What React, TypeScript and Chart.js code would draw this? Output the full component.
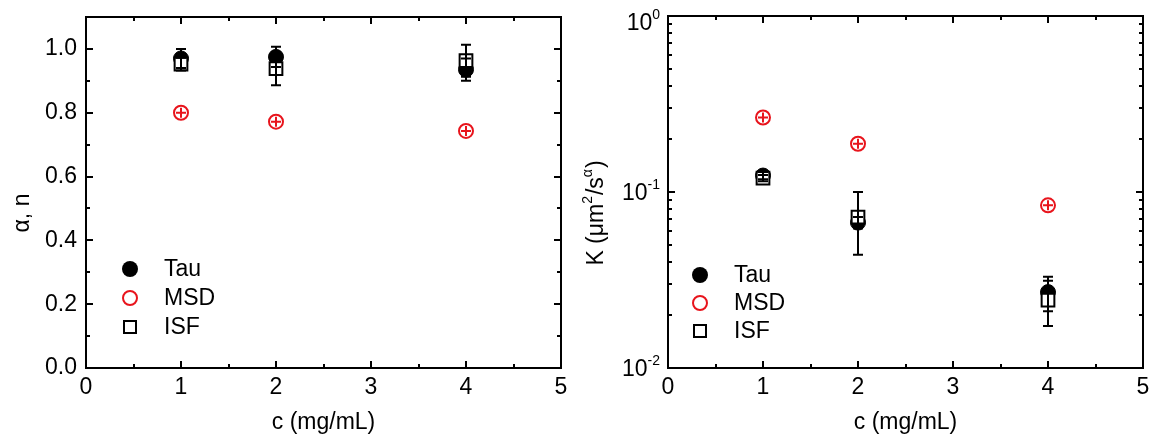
import React, { useEffect, useRef } from "react";
import { Chart, registerables } from "chart.js";

Chart.register(...registerables);

// ---------- data ----------
const concentrations = [1, 2, 4];

const tauAlpha = [0.97, 0.975, 0.935];
const tauAlphaErr = [0.03, 0.032, 0.035];
const msdAlpha = [0.8, 0.772, 0.743];
const isfAlpha = [0.952, 0.938, 0.963];
const isfAlphaErr = [0.02, 0.052, 0.05];

const tauK = [0.124, 0.067, 0.027];
const tauKErr = [0.006, 0.005, 0.006];
const msdK = [0.265, 0.188, 0.084];
const isfK = [0.12, 0.072, 0.0243];
const isfKErr = [0.005, 0.028, 0.007];

const seriesLabels = ["Tau", "MSD", "ISF"];

const xTicks = [0, 1, 2, 3, 4, 5];
const xMinorTicks = [0.5, 1.5, 2.5, 3.5, 4.5];
const alphaTicks = [0, 0.2, 0.4, 0.6, 0.8, 1.0];
const alphaMinorTicks = [0.1, 0.3, 0.5, 0.7, 0.9];
const kTicks = [0.01, 0.1, 1];
const kTickExponents = ["-2", "-1", "0"];
const kMinorTicks = [0.02, 0.03, 0.04, 0.05, 0.06, 0.07, 0.08, 0.09, 0.2, 0.3, 0.4, 0.5, 0.6, 0.7, 0.8, 0.9];

const FONT = "'Liberation Sans', Arial, sans-serif";
const FS = 23;
const SUP = 14;
const RED = "#e8141c";

type LegendRow = { label: string; style: "disc" | "ring" | "square" };

function pts(xs: number[], ys: number[]) {
  return xs.map((x, i) => ({ x, y: ys[i] }));
}

function makePlugin(opts: {
  xMajor: number[];
  xMinor: number[];
  yMajor: number[];
  yMinor: number[];
  legendX: number;
  legendTextX: number;
  legendY: number[];
  legendRows: LegendRow[];
  drawYTitle: (ctx: CanvasRenderingContext2D) => void;
  logLabels?: { values: number[]; exps: string[] };
}) {
  return {
    id: "customDecor",
    afterDatasetsDraw(chart: any) {
      const ctx: CanvasRenderingContext2D = chart.ctx;
      const ys = chart.scales.y;
      ctx.save();
      chart.data.datasets.forEach((ds: any, i: number) => {
        if (!ds.errors) return;
        const meta = chart.getDatasetMeta(i);
        meta.data.forEach((pt: any, j: number) => {
          const v = ds.data[j].y;
          const e = ds.errors[j];
          const yt = ys.getPixelForValue(v + e);
          const yb = ys.getPixelForValue(v - e);
          const px = pt.x;
          ctx.strokeStyle = "#000";
          ctx.lineWidth = 2;
          ctx.beginPath();
          ctx.moveTo(px, yt);
          ctx.lineTo(px, yb);
          ctx.moveTo(px - 5, yt);
          ctx.lineTo(px + 5, yt);
          ctx.moveTo(px - 5, yb);
          ctx.lineTo(px + 5, yb);
          ctx.stroke();
        });
      });
      ctx.restore();
    },
    afterDraw(chart: any) {
      const ctx: CanvasRenderingContext2D = chart.ctx;
      const { left, right, top, bottom } = chart.chartArea;
      const xs = chart.scales.x;
      const ys = chart.scales.y;
      ctx.save();
      ctx.strokeStyle = "#000";
      ctx.lineWidth = 2;
      ctx.strokeRect(left, top, right - left, bottom - top);
      const drawX = (vals: number[], len: number) => {
        vals.forEach((v) => {
          const px = Math.round(xs.getPixelForValue(v));
          ctx.beginPath();
          ctx.moveTo(px, bottom);
          ctx.lineTo(px, bottom - len);
          ctx.moveTo(px, top);
          ctx.lineTo(px, top + len);
          ctx.stroke();
        });
      };
      const drawY = (vals: number[], len: number) => {
        vals.forEach((v) => {
          const py = Math.round(ys.getPixelForValue(v));
          ctx.beginPath();
          ctx.moveTo(left, py);
          ctx.lineTo(left + len, py);
          ctx.moveTo(right, py);
          ctx.lineTo(right - len, py);
          ctx.stroke();
        });
      };
      drawX(opts.xMajor, 7);
      drawX(opts.xMinor, 4);
      drawY(opts.yMajor, 7);
      drawY(opts.yMinor, 4);

      if (opts.logLabels) {
        ctx.fillStyle = "#000";
        ctx.textBaseline = "alphabetic";
        opts.logLabels.values.forEach((v, i) => {
          // keep the top label inside the canvas, as in the original figure
          const py = Math.max(ys.getPixelForValue(v), 22);
          const exp = opts.logLabels!.exps[i];
          ctx.font = `${SUP}px ${FONT}`;
          const ew = ctx.measureText(exp).width;
          ctx.font = `${FS}px ${FONT}`;
          const bw = ctx.measureText("10").width;
          const xr = left - 8;
          ctx.textAlign = "left";
          ctx.fillText("10", xr - ew - bw, py + 8);
          ctx.font = `${SUP}px ${FONT}`;
          ctx.fillText(exp, xr - ew, py - 3);
        });
      }

      ctx.fillStyle = "#000";
      ctx.font = `${FS}px ${FONT}`;
      ctx.textAlign = "center";
      ctx.textBaseline = "middle";
      ctx.fillText("c (mg/mL)", (left + right) / 2, 423);

      opts.drawYTitle(ctx);

      opts.legendRows.forEach((row, i) => {
        const cx = opts.legendX;
        const cy = opts.legendY[i];
        ctx.lineWidth = 2;
        if (row.style === "disc") {
          ctx.fillStyle = "#000";
          ctx.beginPath();
          ctx.arc(cx, cy, 8, 0, Math.PI * 2);
          ctx.fill();
        } else if (row.style === "ring") {
          ctx.strokeStyle = RED;
          ctx.beginPath();
          ctx.arc(cx, cy, 7, 0, Math.PI * 2);
          ctx.stroke();
        } else {
          ctx.strokeStyle = "#000";
          ctx.strokeRect(cx - 6, cy - 6, 12, 12);
        }
        ctx.fillStyle = "#000";
        ctx.font = `${FS}px ${FONT}`;
        ctx.textAlign = "left";
        ctx.textBaseline = "middle";
        ctx.fillText(row.label, opts.legendTextX, cy + 1);
      });
      ctx.restore();
    },
  };
}

function datasets(tau: number[], tauErr: number[], msd: number[], isf: number[], isfErr: number[]) {
  return [
    {
      label: seriesLabels[2],
      data: pts(concentrations, isf),
      errors: isfErr,
      pointStyle: "rect",
      pointRadius: 9,
      pointBackgroundColor: "#fff",
      pointBorderColor: "#000",
      pointBorderWidth: 2,
      showLine: false,
      order: 0,
    },
    {
      label: "MSD cross",
      data: pts(concentrations, msd),
      pointStyle: "cross",
      pointRadius: 5,
      pointBorderColor: RED,
      pointBorderWidth: 2,
      showLine: false,
      order: 1,
    },
    {
      label: seriesLabels[1],
      data: pts(concentrations, msd),
      pointStyle: "circle",
      pointRadius: 7,
      pointBackgroundColor: "#fff",
      pointBorderColor: RED,
      pointBorderWidth: 2,
      showLine: false,
      order: 2,
    },
    {
      label: seriesLabels[0],
      data: pts(concentrations, tau),
      errors: tauErr,
      pointStyle: "circle",
      pointRadius: 7.5,
      pointBackgroundColor: "#000",
      pointBorderColor: "#000",
      pointBorderWidth: 1,
      showLine: false,
      order: 3,
    },
  ];
}

const legendRows: LegendRow[] = [
  { label: seriesLabels[0], style: "disc" },
  { label: seriesLabels[1], style: "ring" },
  { label: seriesLabels[2], style: "square" },
];

function xScale() {
  return {
    type: "linear" as const,
    min: 0,
    max: 5,
    afterBuildTicks: (s: any) => {
      s.ticks = xTicks.map((v) => ({ value: v }));
    },
    afterFit: (s: any) => {
      s.height = 74;
      s.paddingLeft = 0;
      s.paddingRight = 0;
    },
    grid: { display: false, drawTicks: false },
    border: { display: false },
    ticks: {
      padding: 6,
      color: "#000",
      font: { family: FONT, size: FS },
      callback: (v: any) => String(v),
    },
  };
}

function AlphaChart() {
  const ref = useRef<HTMLCanvasElement>(null);
  useEffect(() => {
    const plugin = makePlugin({
      xMajor: xTicks,
      xMinor: xMinorTicks,
      yMajor: alphaTicks,
      yMinor: alphaMinorTicks,
      legendX: 130,
      legendTextX: 164,
      legendY: [269, 298, 327],
      legendRows,
      drawYTitle: (ctx) => {
        ctx.save();
        ctx.translate(23, 213);
        ctx.rotate(-Math.PI / 2);
        ctx.font = `${FS}px ${FONT}`;
        ctx.fillStyle = "#000";
        ctx.textAlign = "center";
        ctx.textBaseline = "middle";
        ctx.fillText("α, n", 0, 0);
        ctx.restore();
      },
    });
    const chart = new Chart(ref.current!, {
      type: "scatter",
      data: { datasets: datasets(tauAlpha, tauAlphaErr, msdAlpha, isfAlpha, isfAlphaErr) as any },
      options: {
        animation: false,
        responsive: false,
        devicePixelRatio: 1,
        layout: { padding: { top: 17, right: 19, left: 0, bottom: 0 } },
        plugins: { legend: { display: false }, tooltip: { enabled: false } },
        scales: {
          x: xScale() as any,
          y: {
            type: "linear",
            min: 0,
            max: 1.1,
            afterBuildTicks: (s: any) => {
              s.ticks = alphaTicks.map((v) => ({ value: v }));
            },
            afterFit: (s: any) => {
              s.width = 86;
              s.paddingTop = 0;
              s.paddingBottom = 0;
            },
            grid: { display: false, drawTicks: false },
            border: { display: false },
            ticks: {
              padding: 9,
              color: "#000",
              font: { family: FONT, size: FS },
              callback: (v: any) => Number(v).toFixed(1),
            },
          },
        },
      },
      plugins: [plugin],
    });
    return () => chart.destroy();
  }, []);
  return <canvas ref={ref} width={580} height={442} style={{ position: "absolute", left: 0, top: 0 }} />;
}

function KChart() {
  const ref = useRef<HTMLCanvasElement>(null);
  useEffect(() => {
    const plugin = makePlugin({
      xMajor: xTicks,
      xMinor: xMinorTicks,
      yMajor: kTicks,
      yMinor: kMinorTicks,
      legendX: 120,
      legendTextX: 154,
      legendY: [275, 303, 331],
      legendRows,
      logLabels: { values: kTicks, exps: kTickExponents },
      drawYTitle: (ctx) => {
        const parts = [
          { t: "K (μm", sup: false },
          { t: "2", sup: true },
          { t: "/s", sup: false },
          { t: "α", sup: true },
          { t: ")", sup: false },
        ];
        ctx.save();
        ctx.translate(17, 213);
        ctx.rotate(-Math.PI / 2);
        ctx.fillStyle = "#000";
        ctx.textAlign = "left";
        ctx.textBaseline = "middle";
        let total = 0;
        const widths = parts.map((p) => {
          ctx.font = p.sup ? `${SUP}px ${FONT}` : `${FS}px ${FONT}`;
          const w = ctx.measureText(p.t).width + (p.sup ? 1 : 0);
          total += w;
          return w;
        });
        let x = -total / 2;
        parts.forEach((p, i) => {
          ctx.font = p.sup ? `${SUP}px ${FONT}` : `${FS}px ${FONT}`;
          ctx.fillText(p.t, x, p.sup ? -9 : 0);
          x += widths[i];
        });
        ctx.restore();
      },
    });
    const chart = new Chart(ref.current!, {
      type: "scatter",
      data: { datasets: datasets(tauK, tauKErr, msdK, isfK, isfKErr) as any },
      options: {
        animation: false,
        responsive: false,
        devicePixelRatio: 1,
        layout: { padding: { top: 16, right: 16, left: 0, bottom: 0 } },
        plugins: { legend: { display: false }, tooltip: { enabled: false } },
        scales: {
          x: xScale() as any,
          y: {
            type: "logarithmic",
            min: 0.01,
            max: 1,
            afterBuildTicks: (s: any) => {
              s.ticks = kTicks.map((v) => ({ value: v }));
            },
            afterFit: (s: any) => {
              s.width = 88;
              s.paddingTop = 0;
              s.paddingBottom = 0;
            },
            grid: { display: false, drawTicks: false },
            border: { display: false },
            ticks: { display: false },
          },
        },
      },
      plugins: [plugin],
    });
    return () => chart.destroy();
  }, []);
  return <canvas ref={ref} width={579} height={442} style={{ position: "absolute", left: 580, top: 0 }} />;
}

export default function App() {
  return (
    <div style={{ position: "absolute", left: 0, top: 0, width: 1159, height: 442, background: "#fff" }}>
      <AlphaChart />
      <KChart />
    </div>
  );
}
